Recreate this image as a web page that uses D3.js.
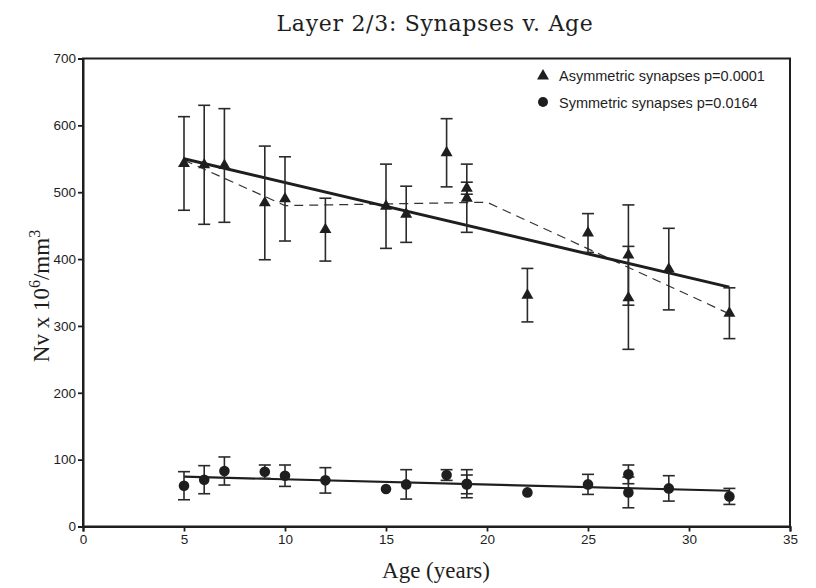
<!DOCTYPE html>
<html>
<head>
<meta charset="utf-8">
<script src="https://cdn.jsdelivr.net/npm/d3@7"></script>
<style>
  html, body { margin: 0; padding: 0; background: #fff; }
  svg { display: block; }
</style>
</head>
<body>
<svg id="chart" width="816" height="588"></svg>
<script>
// ---- Data ----
const xTicks = [0, 5, 10, 15, 20, 25, 30, 35];
const yTicks = [0, 100, 200, 300, 400, 500, 600, 700];

// Asymmetric synapses (triangles): age, mean, error
const asymAge = [5, 6, 7, 9, 10, 12, 15, 16, 18, 19, 19, 22, 25, 27, 27, 29, 32];
const asymVal = [543, 541, 540, 484, 490, 444, 479, 467, 559, 506, 491, 346, 439, 406, 342, 385, 319];
const asymErr = [70, 89, 85, 85, 63, 47, 63, 42, 51, 9, 51, 40, 29, 75, 77, 61, 38];

// Symmetric synapses (circles): age, mean, error (0 = no bar shown)
const symAge = [5, 6, 7, 9, 10, 12, 15, 16, 18, 19, 19, 22, 25, 27, 27, 29, 32];
const symVal = [61, 70, 83, 82, 76, 69, 56, 63, 77, 64, 63, 51, 63, 78, 51, 57, 45];
const symErr = [21, 21, 21, 10, 16, 19, 0, 22, 8, 21, 14, 0, 15, 14, 23, 19, 12];

// Regression lines (endpoints) and dashed trend
const asymFitAge = [5, 32];
const asymFitVal = [550, 358];
const symFitAge = [5, 32];
const symFitVal = [74.5, 53.5];
const trendAge = [5, 10, 20, 32];
const trendVal = [548, 480, 485, 318];

const legendLabels = ["Asymmetric synapses p=0.0001", "Symmetric synapses p=0.0164"];

// ---- Layout ----
const svg = d3.select("#chart");
const x = d3.scaleLinear().domain([0, 35]).range([83, 790]);
const y = d3.scaleLinear().domain([0, 700]).range([526.5, 58.5]);
const ink = "#1e1e1e";

// Title
svg.append("text")
  .attr("x", 435).attr("y", 31)
  .attr("text-anchor", "middle")
  .attr("font-family", "DejaVu Serif, serif")
  .attr("font-size", 22)
  .attr("letter-spacing", 0.7)
  .attr("fill", ink)
  .text("Layer 2/3: Synapses v. Age");

// Frame
svg.append("rect")
  .attr("x", x(0)).attr("y", y(700))
  .attr("width", x(35) - x(0)).attr("height", y(0) - y(700))
  .attr("fill", "none").attr("stroke", ink).attr("stroke-width", 2);

// Axes
const xAxis = svg.append("g")
  .attr("transform", `translate(0,${y(0)})`)
  .call(d3.axisBottom(x).tickValues(xTicks).tickSize(5).tickPadding(3).tickFormat(d3.format("d")));
const yAxis = svg.append("g")
  .attr("transform", `translate(${x(0)},0)`)
  .call(d3.axisLeft(y).tickValues(yTicks).tickSize(5).tickPadding(2).tickFormat(d3.format("d")));
[xAxis, yAxis].forEach(g => {
  g.select(".domain").attr("stroke", ink).attr("stroke-width", 2);
  g.selectAll(".tick line").attr("stroke", ink).attr("stroke-width", 1.8);
  g.selectAll(".tick text")
    .attr("font-family", "Liberation Sans, Arial, sans-serif")
    .attr("font-size", 13.5).attr("fill", ink);
});

// Axis labels
svg.append("text")
  .attr("x", 436).attr("y", 578)
  .attr("text-anchor", "middle")
  .attr("font-family", "Liberation Serif, serif")
  .attr("font-size", 23).attr("fill", ink)
  .text("Age (years)");

const yl = svg.append("text")
  .attr("transform", "translate(49,296) rotate(-90)")
  .attr("text-anchor", "middle")
  .attr("font-family", "Liberation Serif, serif")
  .attr("font-size", 23).attr("fill", ink);
yl.append("tspan").text("Nv x 10");
yl.append("tspan").attr("dy", -9).attr("font-size", 16).text("6");
yl.append("tspan").attr("dy", 9).text("/mm");
yl.append("tspan").attr("dy", -9).attr("font-size", 16).text("3");

// Lines
const line = d3.line().x(d => x(d[0])).y(d => y(d[1]));
svg.append("path")
  .datum(trendAge.map((a, i) => [a, trendVal[i]]))
  .attr("d", line).attr("fill", "none")
  .attr("stroke", "#333").attr("stroke-width", 1.2).attr("stroke-dasharray", "9,6");
svg.append("path")
  .datum(asymFitAge.map((a, i) => [a, asymFitVal[i]]))
  .attr("d", line).attr("fill", "none")
  .attr("stroke", ink).attr("stroke-width", 3);
svg.append("path")
  .datum(symFitAge.map((a, i) => [a, symFitVal[i]]))
  .attr("d", line).attr("fill", "none")
  .attr("stroke", ink).attr("stroke-width", 2.2);

// Error bars
function errorBars(ages, vals, errs) {
  const g = svg.append("g").attr("stroke", "#2a2a2a").attr("stroke-width", 1.6);
  ages.forEach((a, i) => {
    if (!errs[i]) return;
    const cx = x(a), y1 = y(vals[i] + errs[i]), y2 = y(vals[i] - errs[i]);
    g.append("line").attr("x1", cx).attr("x2", cx).attr("y1", y1).attr("y2", y2);
    g.append("line").attr("x1", cx - 6).attr("x2", cx + 6).attr("y1", y1).attr("y2", y1);
    g.append("line").attr("x1", cx - 6).attr("x2", cx + 6).attr("y1", y2).attr("y2", y2);
  });
}
errorBars(asymAge, asymVal, asymErr);
errorBars(symAge, symVal, symErr);

// Markers
const tri = d3.symbol().type(d3.symbolTriangle).size(62);
svg.append("g").selectAll("path")
  .data(asymAge.map((a, i) => [a, asymVal[i]]))
  .join("path")
  .attr("d", tri)
  .attr("transform", d => `translate(${x(d[0])},${y(d[1])})`)
  .attr("fill", ink);
svg.append("g").selectAll("circle")
  .data(symAge.map((a, i) => [a, symVal[i]]))
  .join("circle")
  .attr("cx", d => x(d[0])).attr("cy", d => y(d[1]))
  .attr("r", 5.3).attr("fill", ink);

// Legend
const lg = svg.append("g");
lg.append("path").attr("d", tri).attr("transform", "translate(543,76)").attr("fill", ink);
lg.append("circle").attr("cx", 543).attr("cy", 102).attr("r", 5).attr("fill", ink);
legendLabels.forEach((t, i) => {
  lg.append("text")
    .attr("x", 559).attr("y", 80.5 + i * 27)
    .attr("font-family", "Liberation Sans, Arial, sans-serif")
    .attr("font-size", 14.5).attr("fill", ink)
    .text(t);
});
</script>
</body>
</html>
